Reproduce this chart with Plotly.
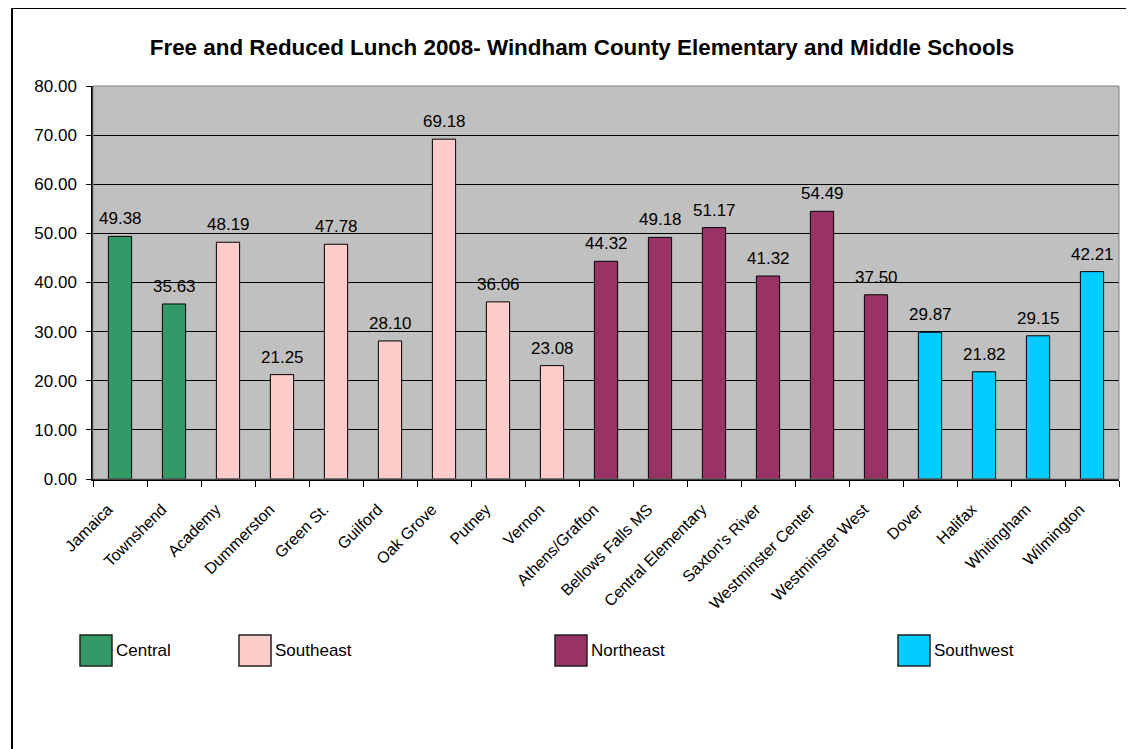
import plotly.graph_objects as go

# ---- data ----
central_schools = ["Jamaica", "Townshend"]
central_values = [49.38, 35.63]
southeast_schools = ["Academy", "Dummerston", "Green St.", "Guilford", "Oak Grove", "Putney", "Vernon"]
southeast_values = [48.19, 21.25, 47.78, 28.10, 69.18, 36.06, 23.08]
northeast_schools = ["Athens/Grafton", "Bellows Falls MS", "Central Elementary", "Saxton's River",
                     "Westminster Center", "Westminster West"]
northeast_values = [44.32, 49.18, 51.17, 41.32, 54.49, 37.50]
southwest_schools = ["Dover", "Halifax", "Whitingham", "Wilmington"]
southwest_values = [29.87, 21.82, 29.15, 42.21]
region_names = ["Central", "Southeast", "Northeast", "Southwest"]
y_ticks = [0, 10, 20, 30, 40, 50, 60, 70, 80]

colors = ["#339966", "#FFCCCC", "#993366", "#00CCFF"]
groups = [
    (central_schools, central_values),
    (southeast_schools, southeast_values),
    (northeast_schools, northeast_values),
    (southwest_schools, southwest_values),
]
all_schools = central_schools + southeast_schools + northeast_schools + southwest_schools

# page body has an 8px margin; work in window pixels and convert
OFF = 8
WIN_W, WIN_H = 1134, 749
W, H = WIN_W - OFF, WIN_H - OFF
PL, PR, PT, PB = 93, 1119, 86, 479          # plot area in window pixels
L, R, T, B = PL - OFF, WIN_W - PR, PT - OFF, WIN_H - PB
PW, PH = PR - PL, PB - PT
FONT = "Arial, Liberation Sans, sans-serif"


def px(x):
    return (x - PL) / PW


def py(y):
    return (PB - y) / PH


fig = go.Figure()
annotations = []
for (schools, vals), name, col in zip(groups, region_names, colors):
    fig.add_trace(go.Bar(
        x=schools, y=vals, name=name,
        marker=dict(color=col, line=dict(color="black", width=1)),
        showlegend=False,
    ))
    for s, v in zip(schools, vals):
        annotations.append(dict(
            x=s, y=v, xref="x", yref="y", text=f"{v:.2f}", showarrow=False,
            yanchor="bottom", yshift=6, font=dict(size=17, color="black", family=FONT),
        ))

shapes = []
# plot area border (gray)
shapes.append(dict(type="rect", xref="paper", yref="paper", x0=0, x1=1, y0=0, y1=1,
                   line=dict(color="#808080", width=1), layer="above"))
# outer chart border
shapes.append(dict(type="rect", xref="paper", yref="paper",
                   x0=px(12), x1=px(1150), y0=py(770), y1=py(8),
                   line=dict(color="black", width=2), layer="above"))

# legend (custom, positioned like the reference)
legend_x = [80, 239, 555, 898]
for x0, name, col in zip(legend_x, region_names, colors):
    shapes.append(dict(type="rect", xref="paper", yref="paper",
                       x0=px(x0), x1=px(x0 + 32), y0=py(666), y1=py(635),
                       fillcolor=col, line=dict(color="#222222", width=1.5), layer="above"))
    annotations.append(dict(x=px(x0 + 34), y=py(650), xref="paper", yref="paper",
                            text=name, showarrow=False, xanchor="left", yanchor="middle",
                            font=dict(size=17, color="black", family=FONT)))

fig.update_layout(
    width=W, height=H,
    margin=dict(l=L, r=R, t=T, b=B, autoexpand=False),
    paper_bgcolor="white", plot_bgcolor="#C0C0C0",
    barmode="overlay", bargap=0.57,
    font=dict(family=FONT, size=17, color="black"),
    title=dict(text="<b>Free and Reduced Lunch 2008- Windham County Elementary and Middle Schools</b>",
               x=(582 - OFF) / W, xref="container", xanchor="center",
               y=1 - (47 - OFF) / H, yref="container", yanchor="middle",
               font=dict(size=22.4, color="black", family=FONT)),
    xaxis=dict(categoryorder="array", categoryarray=all_schools, tickangle=-45,
               ticks="outside", tickson="boundaries", ticklen=6, tickcolor="black",
               showline=True, linecolor="black", linewidth=1.5, showgrid=False,
               ticklabelstandoff=13, ticklabelshift=-12,
               tickfont=dict(size=16, color="black", family=FONT)),
    yaxis=dict(range=[0, 80], tickvals=y_ticks, tickformat=".2f",
               ticks="outside", ticklen=5, tickcolor="black",
               showline=True, linecolor="black", linewidth=1.5,
               showgrid=True, gridcolor="black", gridwidth=1, zeroline=False,
               ticklabelstandoff=6,
               tickfont=dict(size=17, color="black", family=FONT)),
    shapes=shapes, annotations=annotations,
)

fig.write_html("out.html")
